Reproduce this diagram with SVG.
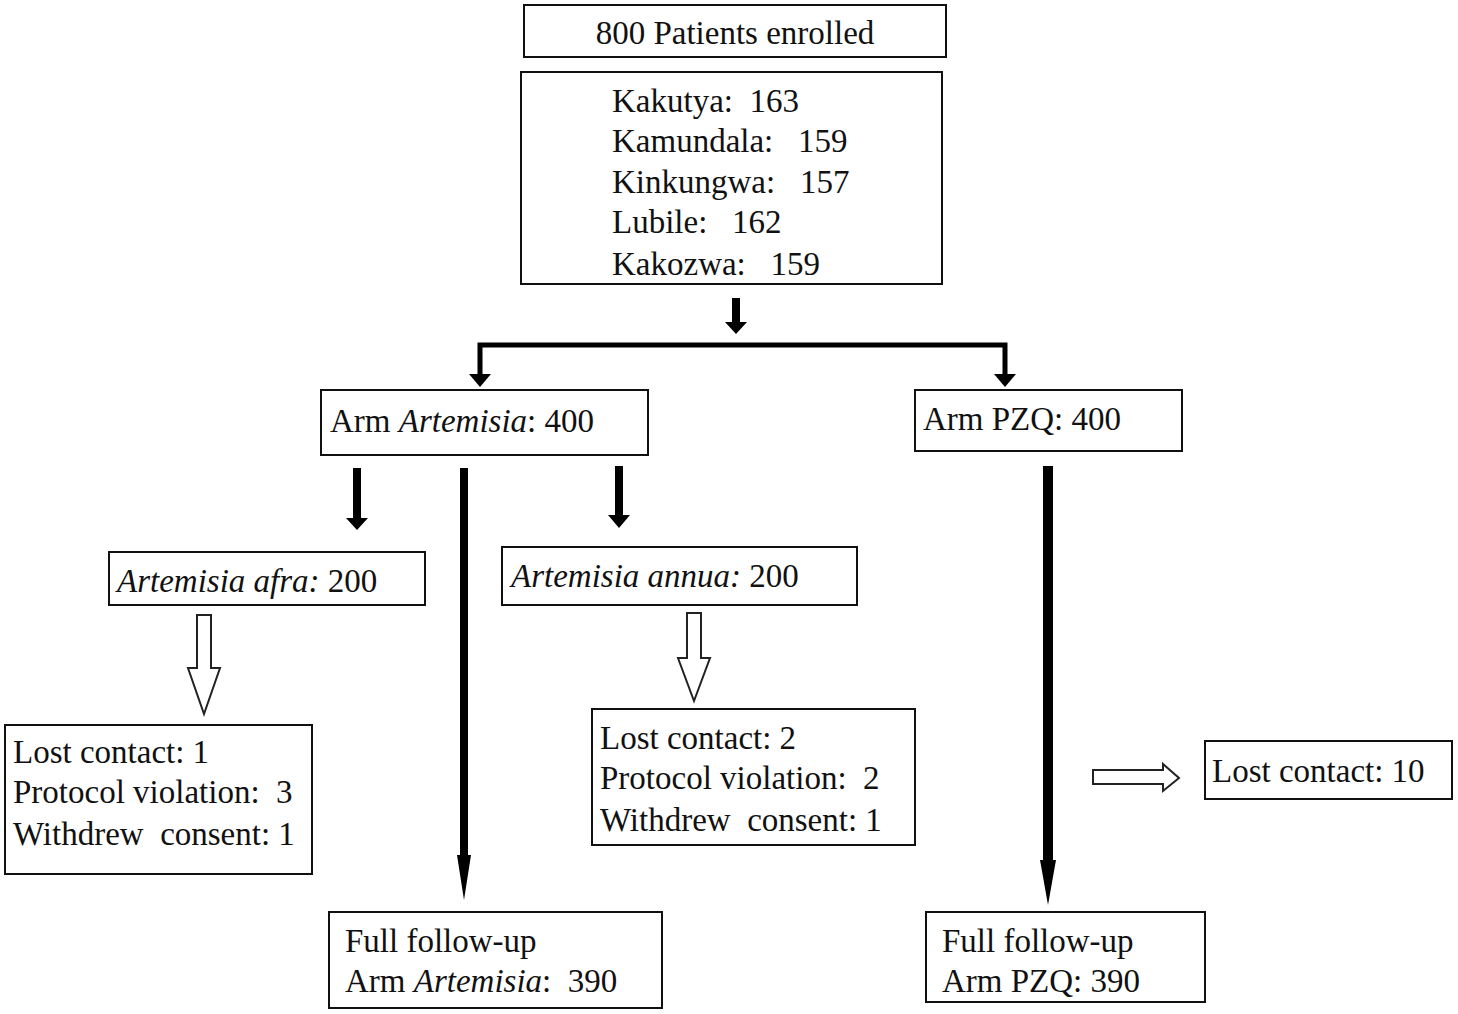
<svg xmlns="http://www.w3.org/2000/svg" width="1458" height="1014" viewBox="0 0 1458 1014">
<style>
.box{fill:#fff;stroke:#111;stroke-width:2}
text{font-family:"Liberation Serif","Times New Roman",serif;font-size:33px;fill:#111;white-space:pre}
.it{font-style:italic}
.solid{fill:#000}
.hollow{fill:#fff;stroke:#222;stroke-width:2}
</style>
<rect width="1458" height="1014" fill="#fff"/>
<g id="connectors">
<path class="solid" d="M732 298h8v24h7l-11 12l-11-12h7z"/>
<path d="M480 374V345H1005V374" fill="none" stroke="#000" stroke-width="5"/>
<path class="solid" d="M469 374h22l-11 13z"/>
<path class="solid" d="M994 374h22l-11 13z"/>
<path class="solid" d="M353 468h8v50h7l-11 12l-11-12h7z"/>
<path class="solid" d="M615 466h8v49h7l-11 13l-11-13h7z"/>
<path class="solid" d="M460 468h8v387h3l-7 45l-7-45h3z"/>
<path class="solid" d="M1043 466h10v394h3l-8 45l-8-45h3z"/>
<path class="hollow" d="M197 615h14v53h9l-16 46l-16-46h9z"/>
<path class="hollow" d="M687 613h14v45h9l-16 43l-16-43h9z"/>
<path class="hollow" d="M1093 770h70v-6l16 14l-16 13v-7h-70z"/>
</g>
<g id="n-enrolled"><rect class="box" x="524" y="5" width="422" height="52"/><text x="735" y="44" text-anchor="middle">800 Patients enrolled</text></g>
<g id="n-sites"><rect class="box" x="521" y="72" width="421" height="212"/>
<text x="612" y="112">Kakutya:  163</text>
<text x="612" y="152">Kamundala:   159</text>
<text x="612" y="193">Kinkungwa:   157</text>
<text x="612" y="233">Lubile:   162</text>
<text x="612" y="275">Kakozwa:   159</text></g>
<g id="n-arm-art"><rect class="box" x="321" y="390" width="327" height="65"/><text x="330" y="432">Arm <tspan class="it">Artemisia</tspan>: 400</text></g>
<g id="n-arm-pzq"><rect class="box" x="915" y="390" width="267" height="61"/><text x="923" y="430">Arm PZQ: 400</text></g>
<g id="n-afra"><rect class="box" x="109" y="552" width="316" height="53"/><text x="117" y="592"><tspan class="it">Artemisia afra:</tspan> 200</text></g>
<g id="n-annua"><rect class="box" x="502" y="547" width="355" height="58"/><text x="511" y="587"><tspan class="it">Artemisia annua:</tspan> 200</text></g>
<g id="n-loss-afra"><rect class="box" x="5" y="725" width="307" height="149"/>
<text x="13" y="763">Lost contact: 1</text>
<text x="13" y="803">Protocol violation:  3</text>
<text x="13" y="845">Withdrew  consent: 1</text></g>
<g id="n-loss-annua"><rect class="box" x="592" y="709" width="323" height="136"/>
<text x="600" y="749">Lost contact: 2</text>
<text x="600" y="789">Protocol violation:  2</text>
<text x="600" y="831">Withdrew  consent: 1</text></g>
<g id="n-loss-pzq"><rect class="box" x="1205" y="741" width="247" height="58"/><text x="1212" y="782">Lost contact: 10</text></g>
<g id="n-fu-art"><rect class="box" x="329" y="912" width="333" height="96"/>
<text x="345" y="952">Full follow-up</text>
<text x="345" y="992">Arm <tspan class="it">Artemisia</tspan>:  390</text></g>
<g id="n-fu-pzq"><rect class="box" x="926" y="912" width="279" height="90"/>
<text x="942" y="952">Full follow-up</text>
<text x="942" y="992">Arm PZQ: 390</text></g>
</svg>
